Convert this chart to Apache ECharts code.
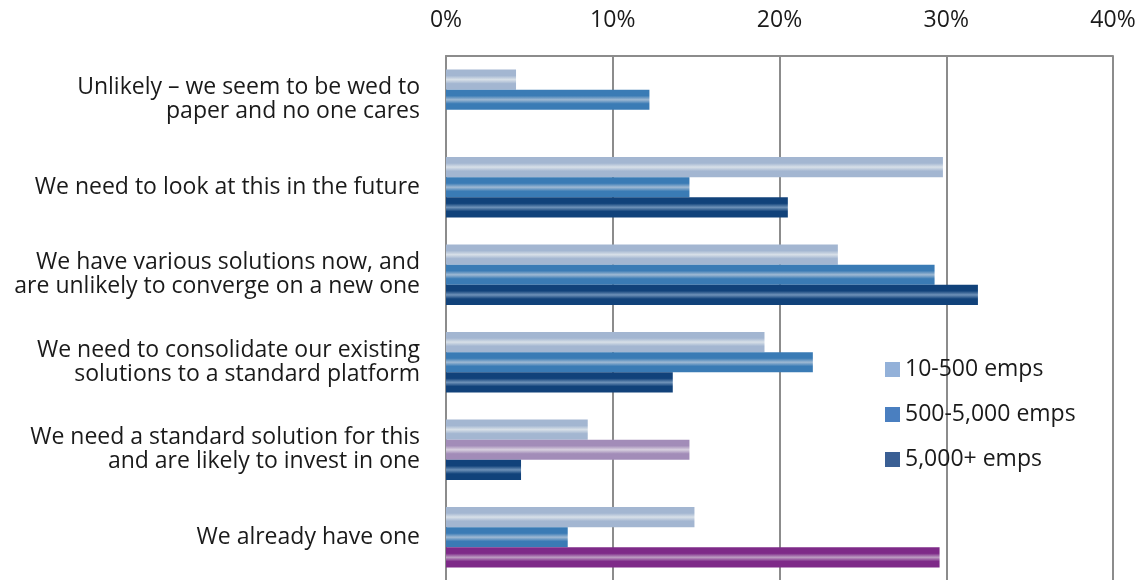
<!DOCTYPE html>
<html>
<head>
<meta charset="utf-8">
<script src="https://cdn.jsdelivr.net/npm/echarts@6/dist/echarts.min.js"></script>
<style>
  html, body { margin: 0; padding: 0; background: #fff; }
  #showChart { width: 1142px; height: 580px; }
</style>
</head>
<body>
<div id="showChart"></div>
<script>
var categories = [
    'Unlikely – we seem to be wed to\npaper and no one cares',
    'We need to look at this in the future',
    'We have various solutions now, and\nare unlikely to converge on a new one',
    'We need to consolidate our existing\nsolutions to a standard platform',
    'We need a standard solution for this\nand are likely to invest in one',
    'We already have one'
];
var seriesNames = ['10-500 emps', '500-5,000 emps', '5,000+ emps'];
var small = [4.2, 29.8, 23.5, 19.1, 8.5, 14.9];
var medium = [12.2, 14.6, 29.3, 22.0, 14.6, 7.3];
var large = [0, 20.5, 31.9, 13.6, 4.5, 29.6];

// bars that were drawn in a different colour in the original
var highlighted = {'1-4': 'lightPurple', '2-5': 'darkPurple'};

function glossy(base, shine) {
    return new echarts.graphic.LinearGradient(0, 0, 0, 1, [
        {offset: 0, color: base},
        {offset: 0.3, color: base},
        {offset: 0.5, color: shine},
        {offset: 0.7, color: base},
        {offset: 1, color: base}
    ]);
}

var palette = {
    light: glossy('#a3b6d1', '#d8e0e8'),
    mid: glossy('#3a7bb5', '#9fb9d3'),
    dark: glossy('#11427a', '#6f92b8'),
    lightPurple: glossy('#a28cb8', '#d8d0df'),
    darkPurple: glossy('#7e2a88', '#bc9cc2')
};
var seriesColors = [palette.light, palette.mid, palette.dark];
var legendColors = ['#93b1d9', '#4a7fc0', '#3a5f94'];

function buildData(values, s) {
    return values.map(function (v, i) {
        var key = highlighted[s + '-' + i];
        if (key) {
            return {value: v, itemStyle: {color: palette[key]}};
        }
        return v;
    });
}

var labelFont = '"Open Sans", "Liberation Sans", sans-serif';

var option1 = {
    backgroundColor: '#fff',
    animation: false,
    grid: {
        left: 446,
        right: 29,
        top: 56,
        bottom: -1,
        outerBoundsMode: 'none'
    },
    legend: {
        orient: 'vertical',
        left: 880,
        top: 353,
        itemWidth: 15,
        itemHeight: 15,
        itemGap: 22,
        textStyle: {fontSize: 23, color: '#1a1a1a', fontFamily: labelFont},
        data: seriesNames.map(function (n, i) {
            return {name: n, icon: 'rect', itemStyle: {color: legendColors[i]}};
        })
    },
    xAxis: {
        type: 'value',
        position: 'top',
        min: 0,
        max: 40,
        interval: 10,
        axisLine: {show: true, lineStyle: {color: '#8c8c8c', width: 2}},
        axisTick: {show: false},
        axisLabel: {
            formatter: '{value}%',
            fontSize: 23,
            color: '#1a1a1a',
            fontFamily: labelFont,
            margin: 24
        },
        splitLine: {show: true, lineStyle: {color: '#8c8c8c', width: 2}}
    },
    yAxis: {
        type: 'category',
        inverse: true,
        data: categories,
        axisLine: {show: true, lineStyle: {color: '#8c8c8c', width: 2}},
        axisTick: {show: false},
        axisLabel: {
            fontSize: 23,
            lineHeight: 24,
            color: '#1a1a1a',
            fontFamily: labelFont,
            margin: 26,
            align: 'right'
        }
    },
    series: [small, medium, large].map(function (vals, s) {
        return {
            name: seriesNames[s],
            type: 'bar',
            barGap: 0,
            barCategoryGap: '31%',
            itemStyle: {color: seriesColors[s]},
            data: buildData(vals, s)
        };
    })
};

var chartOutChar = echarts.init(document.getElementById('showChart'));
chartOutChar.setOption(option1);
</script>
</body>
</html>
